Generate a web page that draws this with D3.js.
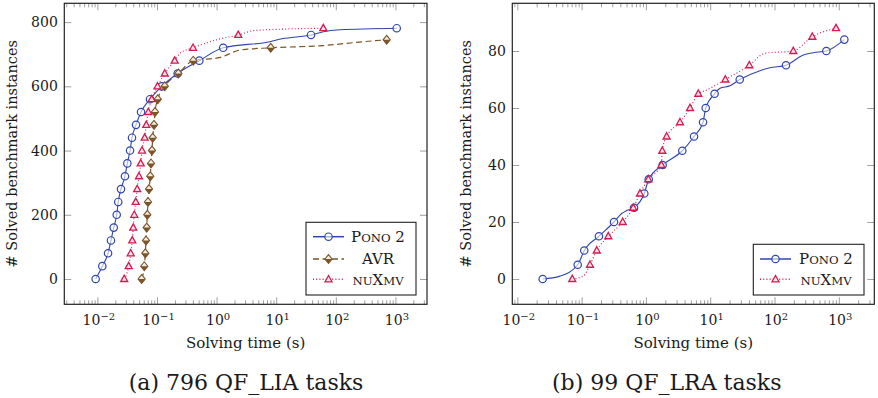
<!DOCTYPE html>
<html lang="en">
<head>
<meta charset="UTF-8">
<title>Solved benchmark instances vs solving time</title>
<style>
  html, body { margin: 0; background: #fff; }
  svg text { font-family: 'DejaVu Serif', serif; fill: #1a1a1a; }
  .frame { fill: none; stroke: #222; stroke-width: 1.2px; }
  .tick line { stroke: #777; stroke-width: 0.7px; }
  .domain { display: none; }
</style>
</head>
<body>
<svg width="878" height="398"></svg>
<script src="https://d3js.org/d3.v7.min.js"></script>
<script>

// [solving time (s), solved instances, marker drawn?]
const liaPono = [
  [0.00936,0,1],[0.0121,40,1],[0.0151,80,1],[0.0169,120,1],[0.0188,160,1],[0.0211,200,1],
  [0.0224,240,1],[0.0249,280,1],[0.0290,320,1],[0.0318,360,1],[0.0353,400,1],[0.0381,440,1],
  [0.0445,480,1],[0.0540,520,1],[0.0764,560,1],[0.120,600,1],[0.222,640,1],[0.513,680,1],
  [1.29,720,1],[7.87,739,0],[12.5,748,0],[38.4,760,1],[61.7,770,0],[117,776,0],[1052,781,1]
];
const liaAvr = [
  [0.0553,0,1],[0.0612,40,1],[0.0637,80,1],[0.0654,120,1],[0.0672,160,1],[0.0688,200,1],
  [0.0706,240,1],[0.0735,280,1],[0.0772,320,1],[0.0793,360,1],[0.0824,400,1],[0.0847,440,1],
  [0.0891,480,1],[0.0925,520,1],[0.103,560,1],[0.135,600,1],[0.228,640,1],[0.406,680,1],
  [1.14,690,0],[2.47,713,0],[8.09,720,1],[61.7,727,0],[289,739,0],[714,745,1]
];
const liaNuxmv = [
  [0.0282,0,1],[0.0335,40,1],[0.0362,80,1],[0.0385,120,1],[0.0400,160,1],[0.0416,200,1],
  [0.0440,240,1],[0.0465,280,1],[0.0499,320,1],[0.0533,360,1],[0.0560,400,1],[0.0622,440,1],
  [0.0661,480,1],[0.0714,520,1],[0.0815,560,1],[0.102,600,1],[0.135,640,1],[0.198,680,1],
  [0.243,703,0],[0.402,720,1],[1.00,745,0],[2.31,760,1],[4.41,774,0],[61.7,781,1]
];
const lraPono = [
  [0.0248,0,1],[0.046,1,0],[0.0869,5,1],[0.110,10,1],[0.186,15,1],[0.319,20,1],[0.42,23,0],
  [0.50,24,0],[0.653,25,1],[0.944,30,1],[1.106,35,1],[1.82,40,1],[3.68,45,1],[5.60,50,1],
  [7.73,55,1],[8.51,60,1],[11.7,65,1],[14.2,66.9,0],[20.3,67.8,0],[28.8,70,1],[59.4,73.1,0],
  [85,74.1,0],[151,75,1],[281,78.6,0],[401,79.4,0],[640,80,1],[1219,84,1]
];
const lraNuxmv = [
  [0.0716,0,1],[0.106,1,0],[0.135,5,1],[0.172,10,1],[0.260,15,1],[0.436,20,1],[0.637,25,1],
  [0.809,30,1],[1.09,35,1],[1.74,40,1],[1.80,45,1],[2.10,50,1],[3.39,55,1],[4.85,60,1],
  [6.53,65,1],[8.8,66.3,0],[17.2,70,1],[40.6,75,1],[71,79.2,0],[196,80,1],[387,85,1],[906,88,1]
];

const xExponents = [-2, -1, 0, 1, 2, 3];
const liaYTicks = [0, 200, 400, 600, 800];
const lraYTicks = [0, 20, 40, 60, 80];

const solvers = {
  pono:  { name: [["P",0],["ONO",1],[" 2",0]], color: "#2f45b0", dash: null,  width: 1.1, mark: "circle" },
  avr:   { name: [["AVR",0]],                  color: "#7b5428", dash: "6,3.5", width: 1.2, mark: "diamond" },
  nuxmv: { name: [["NU",1],["X",0],["MV",1]],  color: "#d41a50", dash: "1,2.2", width: 1.1, mark: "triangle" }
};

const svg = d3.select("svg");

function styledText(sel, parts, size) {
  parts.forEach(function (p) {
    sel.append("tspan")
      .attr("font-size", p[1] ? size * 0.78 : size)
      .text(p[0]);
  });
}

function drawMark(g, type, color, cx, cy) {
  if (type === "circle") {
    g.append("circle").attr("cx", cx).attr("cy", cy).attr("r", 3.7)
      .attr("fill", "#fff").attr("fill-opacity", 0.6).attr("stroke", color).attr("stroke-width", 1.2);
  } else if (type === "triangle") {
    g.append("path")
      .attr("d", "M" + cx + "," + (cy - 3.8) + "L" + (cx + 3.5) + "," + (cy + 2.5) + "L" + (cx - 3.5) + "," + (cy + 2.5) + "Z")
      .attr("fill", "#fbe3ea").attr("stroke", color).attr("stroke-width", 1.3);
  } else {
    g.append("path")
      .attr("d", "M" + cx + "," + (cy - 4.4) + "L" + (cx + 3.6) + "," + cy + "L" + cx + "," + (cy + 4.4) + "L" + (cx - 3.6) + "," + cy + "Z")
      .attr("fill", "#f3ece2").attr("stroke", color).attr("stroke-width", 1.1);
    g.append("path")
      .attr("d", "M" + (cx - 3.6) + "," + cy + "L" + (cx + 3.6) + "," + cy + "L" + cx + "," + (cy + 4.4) + "Z")
      .attr("fill", color);
  }
}

function drawPanel(p) {
  const x = d3.scaleLog().domain(p.xDomain).range([p.left, p.right]);
  const y = d3.scaleLinear().domain(p.yDomain).range([p.bottom, p.top]);
  const g = svg.append("g");

  const majors = xExponents.map(function (e) { return Math.pow(10, e); });
  const minors = [];
  for (let e = -3; e <= 3; e++) {
    for (let k = 2; k <= 9; k++) {
      const v = k * Math.pow(10, e);
      if (v > p.xDomain[0] && v < p.xDomain[1]) minors.push(v);
    }
  }

  // ticks on all four sides, pointing inward
  g.append("g").attr("transform", "translate(0," + p.bottom + ")")
    .call(d3.axisBottom(x).tickValues(majors).tickSize(-7).tickFormat(""));
  g.append("g").attr("transform", "translate(0," + p.bottom + ")")
    .call(d3.axisBottom(x).tickValues(minors).tickSize(-4).tickFormat(""));
  g.append("g").attr("transform", "translate(0," + p.top + ")")
    .call(d3.axisTop(x).tickValues(majors).tickSize(-7).tickFormat(""));
  g.append("g").attr("transform", "translate(0," + p.top + ")")
    .call(d3.axisTop(x).tickValues(minors).tickSize(-4).tickFormat(""));
  g.append("g").attr("transform", "translate(" + p.left + ",0)")
    .call(d3.axisLeft(y).tickValues(p.yTicks).tickSize(-7).tickFormat(""));
  g.append("g").attr("transform", "translate(" + p.right + ",0)")
    .call(d3.axisRight(y).tickValues(p.yTicks).tickSize(-7).tickFormat(""));

  // tick labels
  xExponents.forEach(function (e) {
    const t = g.append("text").attr("x", x(Math.pow(10, e)) + 1.5).attr("y", p.bottom + 21)
      .attr("text-anchor", "middle").attr("font-size", 14);
    t.append("tspan").text("10");
    t.append("tspan").attr("font-size", 10).attr("dy", -5.5).text(e < 0 ? "\u2212" + (-e) : e);
  });
  p.yTicks.forEach(function (v) {
    g.append("text").attr("x", p.left - 6.5).attr("y", y(v) + 5)
      .attr("text-anchor", "end").attr("font-size", 14).text(v);
  });

  // axis titles and caption
  g.append("text").attr("x", (p.left + p.right) / 2).attr("y", p.bottom + 43.5)
    .attr("text-anchor", "middle").attr("font-size", 15).text("Solving time (s)");
  g.append("text")
    .attr("transform", "translate(" + (p.left - p.yTitleOffset) + "," + ((p.top + p.bottom) / 2) + ") rotate(-90)")
    .attr("text-anchor", "middle").attr("font-size", 14.5).text("# Solved benchmark instances");
  g.append("text").attr("x", p.captionX).attr("y", 390)
    .attr("text-anchor", "middle").attr("font-size", 22).text(p.caption);

  // series
  const line = d3.line()
    .x(function (d) { return x(d[0]); })
    .y(function (d) { return y(d[1]); })
    .curve(d3.curveMonotoneX);

  p.series.forEach(function (s) {
    const st = solvers[s.key];
    g.append("path").datum(s.data)
      .attr("d", line).attr("fill", "none")
      .attr("stroke", st.color).attr("stroke-width", st.width)
      .attr("stroke-dasharray", st.dash);
  });
  p.series.forEach(function (s) {
    const st = solvers[s.key];
    s.data.filter(function (d) { return d[2]; }).forEach(function (d) {
      drawMark(g, st.mark, st.color, x(d[0]), y(d[1]));
    });
  });

  g.append("rect").attr("class", "frame")
    .attr("x", p.left).attr("y", p.top)
    .attr("width", p.right - p.left).attr("height", p.bottom - p.top);

  // legend
  const L = p.legend;
  g.append("rect").attr("x", L.x).attr("y", L.y).attr("width", L.w).attr("height", L.h)
    .attr("fill", "#fff").attr("stroke", "#222").attr("stroke-width", 1.1);
  p.series.forEach(function (s, i) {
    const st = solvers[s.key];
    const ey = L.rows[i];
    g.append("line").attr("x1", L.lineX).attr("x2", L.lineX + 31).attr("y1", ey).attr("y2", ey)
      .attr("stroke", st.color).attr("stroke-width", st.width + 0.4).attr("stroke-dasharray", st.dash);
    drawMark(g, st.mark, st.color, L.lineX + 15.5, ey);
    const t = g.append("text").attr("x", L.textX).attr("y", ey + 5.2)
      .attr("text-anchor", "middle").attr("font-size", 15);
    styledText(t, st.name, 15);
  });
}

drawPanel({
  left: 64.3, right: 427, top: 3.3, bottom: 304.3,
  xDomain: [Math.pow(10, -2.555), Math.pow(10, 3.53)],
  yDomain: [-78.8, 858.6],
  yTicks: liaYTicks,
  yTitleOffset: 47,
  caption: "(a) 796 QF_LIA tasks", captionX: 246,
  series: [{ key: "pono", data: liaPono }, { key: "avr", data: liaAvr }, { key: "nuxmv", data: liaNuxmv }],
  legend: { x: 306, y: 222.3, w: 110, h: 72.7, rows: [236.7, 259, 279.3], lineX: 313, textX: 378 }
});

drawPanel({
  left: 512.3, right: 874.3, top: 3.3, bottom: 304.3,
  xDomain: [Math.pow(10, -2.078), Math.pow(10, 3.552)],
  yDomain: [-8.88, 96.74],
  yTicks: lraYTicks,
  yTitleOffset: 41,
  caption: "(b) 99 QF_LRA tasks", captionX: 666.7,
  series: [{ key: "pono", data: lraPono }, { key: "nuxmv", data: lraNuxmv }],
  legend: { x: 753.3, y: 244.3, w: 110.7, h: 50.7, rows: [259, 279.3], lineX: 760, textX: 826 }
});

</script>
</body>
</html>
